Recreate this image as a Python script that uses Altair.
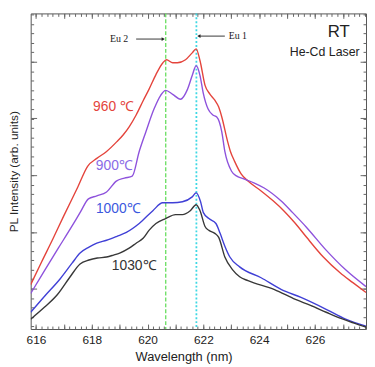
import altair as alt
import numpy as np
import pandas as pd

# ---- data (wavelength nm, PL intensity arb. units) ----
wl_960 = [615.81, 616.2, 616.6, 617.0, 617.5, 617.85, 618.18, 618.53, 618.9, 619.13, 619.34, 619.59,
          619.85, 620.05, 620.3, 620.55, 620.68, 620.9, 621.07, 621.36, 621.6, 621.74, 621.88, 622.06,
          622.24, 622.41, 622.55, 622.66, 622.87, 622.97, 623.12, 623.36, 623.6, 624.07, 624.5, 624.88,
          625.3, 625.7, 626.3, 626.9, 627.36, 627.83]
in_960 = [45, 68, 91, 115, 144, 165, 173, 180, 190, 197, 205, 217,
          232, 243, 258, 270, 273, 270, 270, 273, 280, 284, 272, 247,
          238, 232, 225, 215, 190, 180, 170, 157, 150, 140, 130, 120,
          107, 93, 73, 57, 47, 37]

wl_900 = [615.81, 616.3, 616.8, 617.24, 617.6, 617.88, 618.18, 618.53, 618.88, 619.17, 619.45, 619.7,
          619.94, 620.23, 620.47, 620.65, 620.9, 621.18, 621.43, 621.6, 621.74, 621.88, 621.99, 622.17,
          622.34, 622.48, 622.66, 622.77, 623.01, 623.2, 623.37, 623.83, 624.18, 624.78, 625.2, 625.7,
          626.4, 627.1, 627.83]
in_900 = [36, 59, 82, 102, 119, 132, 135, 139, 150, 153, 155, 180,
          200, 223, 237, 242, 238, 233, 243, 257, 267, 257, 240, 223,
          217, 215, 200, 180, 160, 155, 153, 148, 143, 130, 118, 103,
          80, 60, 43]

wl_1000 = [615.81, 616.3, 616.87, 617.3, 617.58, 617.9, 618.18, 618.53, 618.9, 619.24, 619.7, 620.19,
           620.54, 620.9, 621.25, 621.6, 621.74, 621.9, 622.0, 622.2, 622.45, 622.6, 622.77, 622.95,
           623.3, 624.07, 624.8, 625.5, 626.4, 627.1, 627.83]
in_1000 = [17, 33, 51, 67, 77, 83, 87, 90, 94, 98, 107, 120,
           128, 128, 129, 134, 138, 129, 118, 112, 107, 97, 84, 73,
           63, 52, 40, 32, 20, 10, 3]

wl_1030 = [615.81, 616.3, 616.77, 617.2, 617.58, 617.9, 618.2, 618.53, 618.78, 619.0, 619.34, 619.59,
           619.84, 620.05, 620.3, 620.65, 621.0, 621.25, 621.53, 621.74, 621.88, 622.06, 622.2, 622.41,
           622.55, 622.77, 623.05, 623.3, 623.6, 624.55, 625.3, 625.84, 626.4, 626.9, 627.4, 627.83]
in_1030 = [10, 22, 35, 52, 66, 70, 72, 73, 75, 77, 82, 87,
           92, 100, 107, 112, 116, 116, 120, 126, 120, 104, 100, 97,
           93, 73, 60, 53, 49, 40, 30, 24, 17, 11, 6, 2]

series_names = ["960", "900", "1000", "1030"]
series_colors = ["#e4443c", "#8e52dc", "#4040d6", "#383838"]

# labels on the curves
lab_text = ["960 \u2103", "900\u2103", "1000\u2103", "1030\u2103"]
lab_x = [618.78, 618.81, 618.95, 619.52]
lab_y = [225, 165, 122, 64]
lab_colors = ["#e4443c", "#8a6ae6", "#3b58de", "#333333"]

# Eu markers
eu_names = ["Eu 2", "Eu 1"]
eu_wl = [620.65, 621.75]
eu_text_x = [619.38, 622.87]
eu_text_y = [294, 297]
eu_arrow_from = [619.59, 622.77]
eu_arrow_to = [620.56, 621.84]

X_DOM = [615.81, 627.83]
Y_DOM = [0, 320]
W, H = 340, 320

x_major = [616, 618, 620, 622, 624, 626]
x_ticks1 = list(range(616, 628))
x_ticks_minor = [round(v, 2) for v in np.arange(615.8, 627.9, 0.2)]
y_major = [41, 98.5, 156, 213.5, 271]
y_minor = [round(v, 2) for v in np.arange(41 - 9.583 * 4, 320, 9.583) if 0 <= v <= 320]

rows = []
for name, wl, iv in [("960", wl_960, in_960), ("900", wl_900, in_900),
                     ("1000", wl_1000, in_1000), ("1030", wl_1030, in_1030)]:
    for a, b in zip(wl, iv):
        rows.append({"series": name, "wl": a, "I": b})
df = pd.DataFrame(rows)

xs = alt.Scale(domain=X_DOM, nice=False, zero=False)
ys = alt.Scale(domain=Y_DOM, nice=False, zero=False)
FONT = "Liberation Sans"

lines = alt.Chart(df).mark_line(strokeWidth=1.4, interpolate="monotone", clip=True).encode(
    x=alt.X("wl:Q", scale=xs, axis=alt.Axis(
        orient="bottom", values=x_major, ticks=False, domain=False, grid=False, format="d",
        labelFontSize=12, labelFont=FONT, labelColor="#222", labelPadding=6,
        title="Wavelength (nm)", titleFont=FONT, titleFontSize=13, titleFontWeight="normal",
        titleColor="#222", titlePadding=5, titleX=155)),
    y=alt.Y("I:Q", scale=ys, axis=alt.Axis(
        orient="left", labels=False, ticks=False, domain=False, grid=False,
        title="PL Intensity (arb. units)", titleFont=FONT, titleFontSize=12,
        titleFontWeight="normal", titleColor="#222", titlePadding=10)),
    color=alt.Color("series:N", scale=alt.Scale(domain=series_names, range=series_colors), legend=None),
    detail="series:N",
)

eu_df = pd.DataFrame({"name": eu_names, "wl": eu_wl, "tx": eu_text_x, "ty": eu_text_y,
                      "a0": eu_arrow_from, "a1": eu_arrow_to})

green = alt.Chart(eu_df.iloc[[0]]).mark_rule(color="#72e06a", strokeWidth=1.4, strokeDash=[4, 2]).encode(
    x=alt.X("wl:Q", scale=xs, axis=None))
cyan = alt.Chart(eu_df.iloc[[1]]).mark_rule(color="#3fd8e4", strokeWidth=1.8, strokeDash=[2, 2]).encode(
    x=alt.X("wl:Q", scale=xs, axis=None))

arrows = alt.Chart(eu_df).mark_rule(color="#222", strokeWidth=0.9).encode(
    x=alt.X("a0:Q", scale=xs, axis=None), x2="a1:Q",
    y=alt.Y("ty:Q", scale=ys, axis=None))
heads = alt.Chart(eu_df).mark_point(filled=True, color="#222", size=14, opacity=1).encode(
    x=alt.X("a1:Q", scale=xs, axis=None),
    y=alt.Y("ty:Q", scale=ys, axis=None),
    shape=alt.Shape("name:N", scale=alt.Scale(domain=eu_names, range=["triangle-right", "triangle-left"]),
                    legend=None))
eu2_txt = alt.Chart(eu_df.iloc[[0]]).mark_text(align="right", baseline="middle", font="Liberation Serif",
                                                fontSize=10, color="#222", dx=-2).encode(
    x=alt.X("tx:Q", scale=xs, axis=None), y=alt.Y("ty:Q", scale=ys, axis=None), text="name:N")
eu1_txt = alt.Chart(eu_df.iloc[[1]]).mark_text(align="left", baseline="middle", font="Liberation Serif",
                                                fontSize=10, color="#222", dx=1).encode(
    x=alt.X("tx:Q", scale=xs, axis=None), y=alt.Y("ty:Q", scale=ys, axis=None), text="name:N")

lab_df = pd.DataFrame({"t": lab_text, "x": lab_x, "y": lab_y, "c": lab_colors})
labels = alt.Chart(lab_df).mark_text(align="center", baseline="middle", font=FONT, fontSize=14).encode(
    x=alt.X("x:Q", scale=xs, axis=None), y=alt.Y("y:Q", scale=ys, axis=None),
    text="t:N", color=alt.Color("c:N", scale=None))

info_df = pd.DataFrame({"t": ["RT", "He-Cd Laser"], "x": [627.25, 627.6], "y": [301, 281], "s": [17, 12.5]})
info = alt.Chart(info_df).mark_text(align="right", baseline="middle", font=FONT, color="#222").encode(
    x=alt.X("x:Q", scale=xs, axis=None), y=alt.Y("y:Q", scale=ys, axis=None),
    text="t:N", size=alt.Size("s:Q", scale=None, legend=None))


def xtick_layer(orient, values, size):
    d = pd.DataFrame({"v": [X_DOM[0]]})
    return alt.Chart(d).mark_point(opacity=0).encode(
        x=alt.X("v:Q", scale=xs, axis=alt.Axis(
            orient=orient, offset=-H, values=values, labels=False, domain=False, grid=False,
            title=None, ticks=True, tickSize=size, tickColor="#666", tickWidth=1)))


def ytick_layer(orient, values, size):
    d = pd.DataFrame({"v": [Y_DOM[0]]})
    return alt.Chart(d).mark_point(opacity=0).encode(
        y=alt.Y("v:Q", scale=ys, axis=alt.Axis(
            orient=orient, offset=-W, values=values, labels=False, domain=False, grid=False,
            title=None, ticks=True, tickSize=size, tickColor="#666", tickWidth=1)))


tick_layers = [
    xtick_layer("top", x_ticks1, 5), xtick_layer("top", x_ticks_minor, 3),
    xtick_layer("bottom", x_ticks1, 5), xtick_layer("bottom", x_ticks_minor, 3),
    ytick_layer("right", y_major, 6), ytick_layer("right", y_minor, 3),
    ytick_layer("left", y_major, 6), ytick_layer("left", y_minor, 3),
]

chart = alt.layer(
    green, cyan, lines, labels, info, arrows, heads, eu2_txt, eu1_txt, *tick_layers
).resolve_axis(x="independent", y="independent").properties(
    width=W, height=H, padding={"left": 0, "top": 2, "right": 0, "bottom": 0}
).configure_view(stroke="#555", strokeWidth=1)

chart.save("out.html", embed_options={"renderer": "svg", "actions": False})
